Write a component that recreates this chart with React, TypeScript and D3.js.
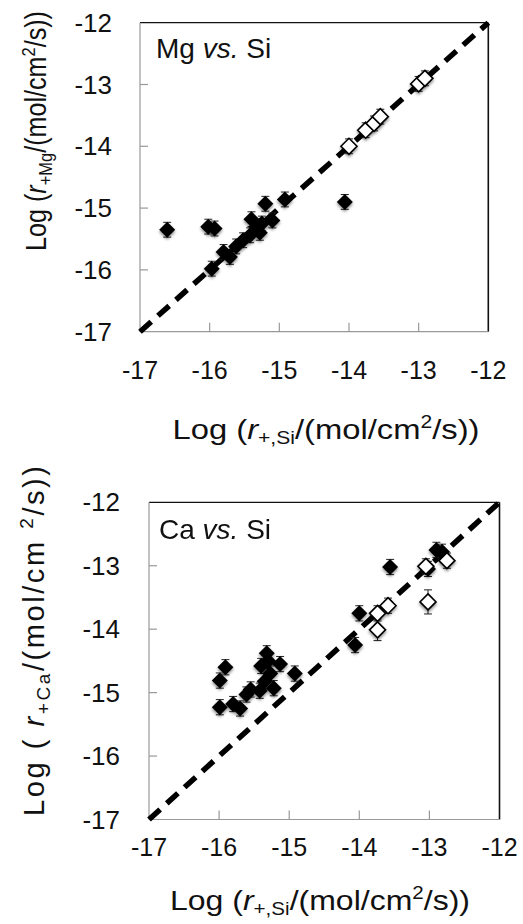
import React from "react";
import * as d3 from "d3";

// ---- Data: Mg vs Si panel ----
const mgFilledX = [-16.61, -16.02, -15.93, -15.97, -15.8, -15.71, -15.62, -15.52, -15.42, -15.4, -15.33, -15.28, -15.2, -15.1, -15.25, -14.92, -14.06];
const mgFilledY = [-15.35, -15.3, -15.33, -15.98, -15.71, -15.79, -15.62, -15.52, -15.44, -15.18, -15.3, -15.4, -14.93, -15.2, -15.25, -14.86, -14.9];
const mgFilledErr = [0.12, 0.12, 0.12, 0.12, 0.12, 0.12, 0.12, 0.12, 0.12, 0.12, 0.12, 0.12, 0.12, 0.12, 0.12, 0.12, 0.12];
const mgOpenX = [-14.0, -13.76, -13.64, -13.55, -13.0, -12.91];
const mgOpenY = [-14.0, -13.74, -13.63, -13.52, -12.99, -12.9];
const mgOpenErr = [0.12, 0.12, 0.12, 0.12, 0.12, 0.12];

// ---- Data: Ca vs Si panel ----
const caFilledX = [-15.99, -15.99, -15.91, -15.8, -15.7, -15.61, -15.55, -15.42, -15.4, -15.35, -15.32, -15.3, -15.27, -15.22, -15.13, -14.92, -14.06, -14.0, -13.56, -13.02, -12.9, -12.82];
const caFilledY = [-15.23, -14.81, -14.6, -15.18, -15.25, -15.03, -14.95, -14.97, -14.58, -14.82, -14.38, -14.5, -14.7, -14.93, -14.55, -14.7, -14.25, -13.75, -13.02, -13.05, -12.75, -12.78];
const caFilledErr = [0.12, 0.12, 0.12, 0.12, 0.12, 0.12, 0.12, 0.12, 0.12, 0.12, 0.12, 0.12, 0.12, 0.12, 0.12, 0.12, 0.12, 0.12, 0.12, 0.12, 0.12, 0.12];
const caOpenX = [-13.74, -13.59, -13.74, -13.05, -12.75, -13.02];
const caOpenY = [-13.75, -13.63, -14.01, -13.01, -12.92, -13.57];
const caOpenErr = [0.12, 0.12, 0.17, 0.12, 0.12, 0.19];

const tickValues = [-17, -16, -15, -14, -13, -12];
const domain: [number, number] = [-17, -12];

const FONT = "'Liberation Sans', Arial, Helvetica, sans-serif";

type Pt = { x: number; y: number; e: number };
const zip = (xs: number[], ys: number[], es: number[]): Pt[] => xs.map((x, i) => ({ x, y: ys[i], e: es[i] }));

const diamond = (r: number) => `M0,${-r}L${r},0L0,${r}L${-r},0Z`;

type PanelProps = {
  left: number; right: number; top: number; bottom: number;
  filled: Pt[]; open: Pt[];
  label: string;
  labelX: number; labelY: number;
  yTitle: React.ReactNode; yTitleX: number; yTitleY: number; yTitleLen: number; yTitleAdjust: string;
  xTitleY: number; xTitleX: number; xTitleLen: number;
  xTickY: number; yTickRight: number;
};

function Panel(p: PanelProps) {
  const x = d3.scaleLinear().domain(domain).range([p.left, p.right]);
  const y = d3.scaleLinear().domain(domain).range([p.bottom, p.top]);
  const r = 8;
  const err = (d: Pt, key: string) => (
    <g key={key} stroke="#222" strokeWidth={1}>
      <line x1={x(d.x)} x2={x(d.x)} y1={y(d.y - d.e)} y2={y(d.y + d.e)} />
      <line x1={x(d.x) - 4} x2={x(d.x) + 4} y1={y(d.y + d.e)} y2={y(d.y + d.e)} />
      <line x1={x(d.x) - 4} x2={x(d.x) + 4} y1={y(d.y - d.e)} y2={y(d.y - d.e)} />
    </g>
  );
  return (
    <g fontFamily={FONT}>
      {/* frame */}
      <line x1={p.left} x2={p.right} y1={p.top} y2={p.top} stroke="#111" strokeWidth={1.2} />
      <line x1={p.right} x2={p.right} y1={p.top} y2={p.bottom} stroke="#111" strokeWidth={1.6} />
      <line x1={p.left} x2={p.left} y1={p.top} y2={p.bottom} stroke="#999" strokeWidth={1.2} />
      <line x1={p.left} x2={p.right} y1={p.bottom} y2={p.bottom} stroke="#999" strokeWidth={1.2} />
      {tickValues.slice(1, -1).map((t) => (
        <g key={"t" + t} stroke="#999" strokeWidth={1.2}>
          <line x1={x(t)} x2={x(t)} y1={p.bottom} y2={p.bottom - 9} />
          <line x1={p.left} x2={p.left + 8} y1={y(t)} y2={y(t)} />
        </g>
      ))}
      {tickValues.map((t) => (
        <text key={"xl" + t} x={x(t)} y={p.xTickY} textAnchor="middle" dominantBaseline="central" fontSize={25} fill="#111">
          {t}
        </text>
      ))}
      {tickValues.map((t) => (
        <text key={"yl" + t} x={p.yTickRight} y={y(t)} textAnchor="end" dominantBaseline="central" fontSize={26} fill="#111">
          {t}
        </text>
      ))}
      {/* y=x line */}
      <line x1={x(-17)} y1={y(-17)} x2={x(-12)} y2={y(-12)} stroke="#000" strokeWidth={5.5} strokeDasharray="15 9" />
      {/* error bars */}
      {p.filled.map((d, i) => err(d, "fe" + i))}
      {p.open.map((d, i) => err(d, "oe" + i))}
      {/* markers */}
      <g filter="url(#shadow)">
        {p.filled.map((d, i) => (
          <path key={"f" + i} d={diamond(r)} transform={`translate(${x(d.x)},${y(d.y)})`} fill="#000" />
        ))}
        {p.open.map((d, i) => (
          <path key={"o" + i} d={diamond(r)} transform={`translate(${x(d.x)},${y(d.y)})`} fill="#fff" stroke="#000" strokeWidth={1.6} />
        ))}
      </g>
      <text x={p.labelX} y={p.labelY} fontSize={28} fill="#111">
        {p.label}<tspan fontStyle="italic"> vs.</tspan> Si
      </text>
      {/* y title */}
      <text transform={`translate(${p.yTitleX},${p.yTitleY}) rotate(-90)`} textAnchor="middle" fontSize={29} fill="#111"
        textLength={p.yTitleLen} lengthAdjust={p.yTitleAdjust}>
        {p.yTitle}
      </text>
      {/* x title */}
      <text x={p.xTitleX} y={p.xTitleY} textAnchor="middle" fontSize={28} fill="#111" textLength={p.xTitleLen} lengthAdjust="spacingAndGlyphs">
        Log (<tspan fontStyle="italic">r</tspan>
        <tspan fontSize={18} dy={5}>+,Si</tspan>
        <tspan dy={-5}>/(mol/cm</tspan>
        <tspan fontSize={18} dy={-11}>2</tspan>
        <tspan dy={11}>/s))</tspan>
      </text>
    </g>
  );
}

export default function App() {
  const mgFilled = zip(mgFilledX, mgFilledY, mgFilledErr);
  const mgOpen = zip(mgOpenX, mgOpenY, mgOpenErr);
  const caFilled = zip(caFilledX, caFilledY, caFilledErr);
  const caOpen = zip(caOpenX, caOpenY, caOpenErr);
  return (
    <svg width={523} height={924} style={{ position: "absolute", left: 0, top: 0, background: "#fff" }}>
      <defs>
        <filter id="shadow" x="-50%" y="-50%" width="200%" height="200%">
          <feDropShadow dx={0} dy={2} stdDeviation={1.6} floodColor="#000" floodOpacity={0.45} />
        </filter>
      </defs>
      <rect width={523} height={924} fill="#fff" />
      <Panel
        left={140} right={488.3} top={22.7} bottom={331.7}
        filled={mgFilled} open={mgOpen} label="Mg"
        labelX={156} labelY={58}
        yTitle={<>Log (<tspan fontStyle="italic">r</tspan><tspan fontSize={19} dy={6}>+Mg</tspan><tspan dy={-6}>/(mol/cm</tspan><tspan fontSize={19} dy={-11}>2</tspan><tspan dy={11}>/s))</tspan></>}
        yTitleX={46} yTitleY={131} yTitleLen={240} yTitleAdjust="spacingAndGlyphs"
        xTitleX={326} xTitleY={439} xTitleLen={307}
        xTickY={370} yTickRight={112}
      />
      <Panel
        left={149} right={499.5} top={502.3} bottom={819.5}
        filled={caFilled} open={caOpen} label="Ca"
        labelX={159} labelY={539}
        yTitle={<>Log ( <tspan fontStyle="italic">r</tspan><tspan fontSize={19} dy={6}>+Ca</tspan><tspan dy={-6}>/(mol/cm </tspan><tspan fontSize={19} dy={-11}>2</tspan><tspan dy={11}>/s))</tspan></>}
        yTitleX={44} yTitleY={641} yTitleLen={350} yTitleAdjust="spacing"
        xTitleX={320} xTitleY={910} xTitleLen={300}
        xTickY={847} yTickRight={120}
      />
    </svg>
  );
}
